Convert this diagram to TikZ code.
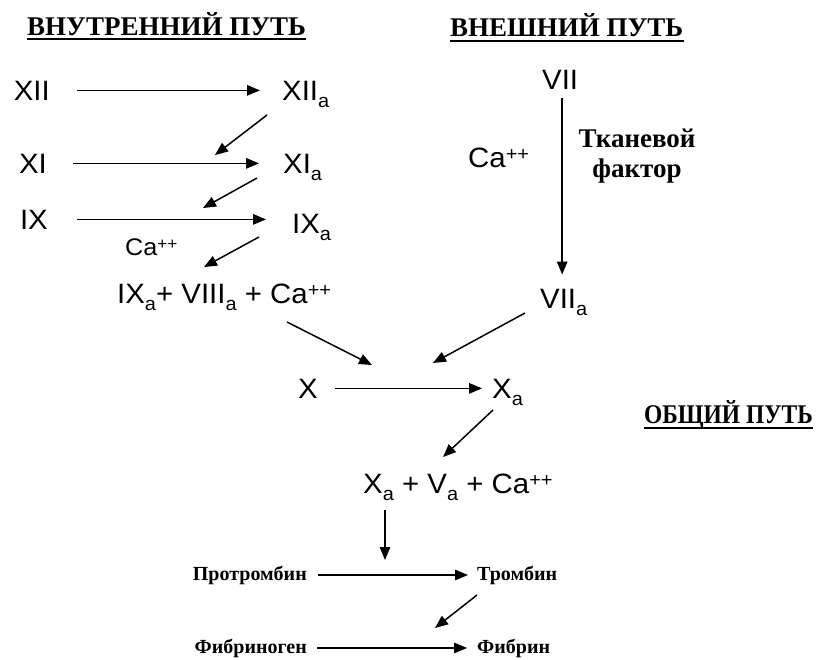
\documentclass[tikz,border=0pt]{standalone}
\usepackage{fontspec}
\usepackage{graphicx}
\setmainfont{Liberation Serif}
\newfontfamily\arial[FakeStretch=1.05]{Liberation Sans}
\newfontfamily\uzk[FakeStretch=0.87]{Liberation Serif}
\usetikzlibrary{arrows.meta}

% indici dels factors
\newcommand\ind[1]{\raisebox{-0.25em}{\scalebox{0.68}{#1}}}
\newcommand\chg[1]{\raisebox{0.25em}{\scalebox{0.68}{#1}}}

\tikzset{
  fak/.style={font=\arial\fontsize{28}{28}\selectfont, inner sep=0pt},
  zag/.style={font=\bfseries\fontsize{27}{27}\selectfont, inner sep=0pt, anchor=base west},
  bel/.style={font=\bfseries\fontsize{20}{20}\selectfont, inner sep=0pt},
  uline/.style={line width=1.6pt},
  strel/.style={line width=1.5pt, -{Triangle[length=13pt,width=10.5pt]}},
}

\begin{document}
\begin{tikzpicture}[x=1pt,y=-1pt]
    \useasboundingbox (0,0) rectangle (816,659);

    % Titols
    \node[zag] (vnutr) at (27,35) {ВНУТРЕННИЙ ПУТЬ};
    \node[zag] (vnesh) at (450,36) {ВНЕШНИЙ ПУТЬ};
    \node[zag, font=\uzk\bfseries\fontsize{27}{27}\selectfont, anchor=base east] (obsh) at (813,423) {ОБЩИЙ ПУТЬ};
    \draw[uline] ([yshift=-4pt]vnutr.base west) -- ([yshift=-4pt]vnutr.base east);
    \draw[uline] ([yshift=-5pt]vnesh.base west) -- ([yshift=-5pt]vnesh.base east);
    \draw[uline] ([yshift=-5pt]obsh.base west) -- ([yshift=-5pt]obsh.base east);

    % Via intrinseca
    \node[fak, anchor=base east] (xii) at (50,100) {XII};
    \node[fak, anchor=base west] (xiia) at (282,100) {XII\ind{a}};
    \node[fak, anchor=base east] (xi) at (47,173) {XI};
    \node[fak, anchor=base west] (xia) at (283,173) {XI\ind{a}};
    \node[fak, anchor=base east] (ix) at (48,229) {IX};
    \node[fak, anchor=base west] (ixa) at (292,233) {IX\ind{a}};
    \node[fak, font=\arial\fontsize{24}{24}\selectfont, anchor=base west] (ca1) at (125,255) {Ca\chg{++}};
    \node[fak, anchor=base west] (ixk) at (117,303) {IX\ind{a}+ VIII\ind{a} + Ca\chg{++}};

    \draw[strel, shorten <=27pt, shorten >=22pt] (xii.east) -- (xii.east -| xiia.west);
    \draw[strel, shorten <=26pt, shorten >=24pt] (xi.east) -- (xi.east -| xia.west);
    \draw[strel, shorten <=29pt, shorten >=26pt] (ix.east) -- (ix.east -| ixa.west);

    % fletxes de catalisi
    \coordinate (k1) at (215,155);
    \coordinate (k2) at (203,208);
    \coordinate (k3) at (204,267);
    \draw[strel] ([xshift=-15pt,yshift=-15pt]xiia.base west) -- (k1);
    \draw[strel] ([xshift=-26pt,yshift=-5pt]xia.base west) -- (k2);
    \draw[strel] ([xshift=-33pt,yshift=-4pt]ixa.base west) -- (k3);

    % Via extrinseca
    \node[fak, anchor=base west] (vii) at (542,89) {VII};
    \node[fak, anchor=base west] (viia) at (540,308) {VII\ind{a}};
    \node[fak, anchor=base west] (ca2) at (468,167) {Ca\chg{++}};
    \node[font=\bfseries\fontsize{27}{30}\selectfont, inner sep=0pt, align=center] (tkan) at (637,156) {Тканевой\\фактор};
    \draw[strel, shorten <=9pt, shorten >=14pt] ([xshift=2pt]vii.south) -- ([xshift=2pt]vii.south |- viia.north);

    % Factor X
    \node[fak, anchor=base east] (fx) at (318,398) {X};
    \node[fak, anchor=base west] (fxa) at (492,398) {X\ind{a}};
    \draw[strel, shorten <=17pt, shorten >=10pt] (fx.east) -- (fx.east -| fxa.west);
    \coordinate (k4) at (372,365);
    \coordinate (k5) at (433,363);
    \draw[strel] ([xshift=170pt,yshift=-19pt]ixk.base west) -- (k4);
    \draw[strel] ([xshift=-15pt,yshift=-5pt]viia.base west) -- (k5);

    % Via comuna
    \node[fak, anchor=base west] (xva) at (363,493) {X\ind{a} + V\ind{a} + Ca\chg{++}};
    \coordinate (k6) at (443,457);
    \draw[strel] ([xshift=1pt,yshift=-12pt]fxa.base west) -- (k6);
    \coordinate (k7) at (385,560);
    \draw[strel, shorten <=10pt] (k7 |- xva.south) -- (k7);

    \node[bel, anchor=base east] (protr) at (307,580) {Протромбин};
    \node[bel, anchor=base west] (tromb) at (477,580) {Тромбин};
    \node[bel, anchor=base east] (fibrg) at (307,653) {Фибриноген};
    \node[bel, anchor=base west] (fibr) at (477,653) {Фибрин};
    \draw[strel, shorten <=11pt, shorten >=9pt] (protr.east) -- (protr.east -| tromb.west);
    \draw[strel, shorten <=10pt, shorten >=10pt] (fibrg.east) -- (fibrg.east -| fibr.west);
    \coordinate (k8) at (435,628);
    \draw[strel] ([yshift=-15pt]tromb.base west) -- (k8);
\end{tikzpicture}
\end{document}
